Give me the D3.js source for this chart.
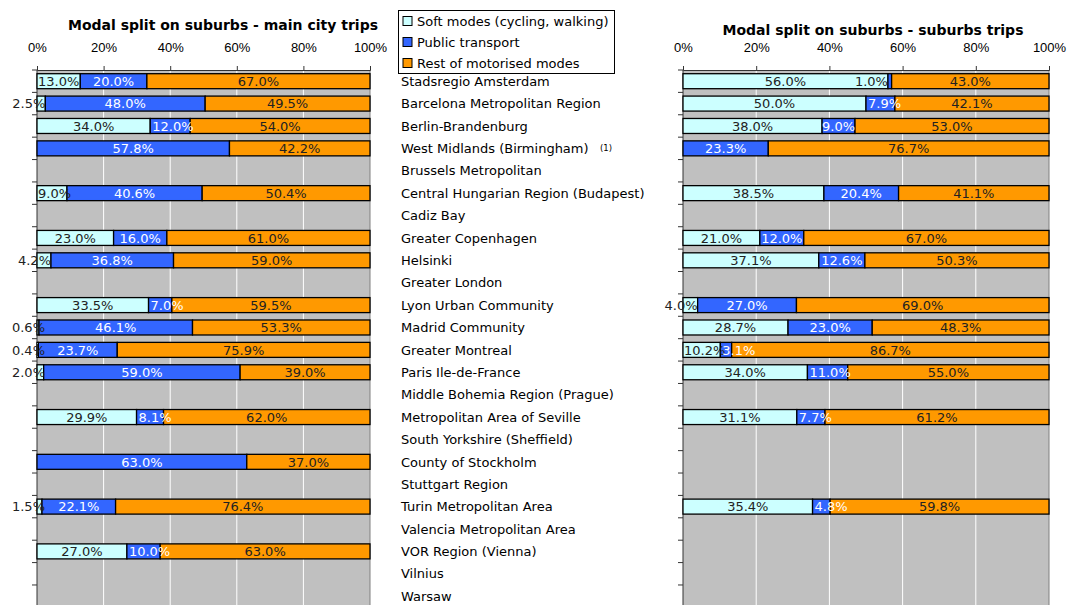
<!DOCTYPE html>
<html>
<head>
<meta charset="utf-8">
<script src="https://cdn.jsdelivr.net/npm/d3@7"></script>
<style>
    body { margin: 0; background: #fff; }
    svg { display: block; font-family: "DejaVu Sans", Verdana, sans-serif; }
</style>
</head>
<body>
<div id="chart"></div>
<script>
// regions (same order on both panels)
const categories = [
    "Stadsregio Amsterdam", "Barcelona Metropolitan Region", "Berlin-Brandenburg",
    "West Midlands (Birmingham)", "Brussels Metropolitan", "Central Hungarian Region (Budapest)",
    "Cadiz Bay", "Greater Copenhagen", "Helsinki", "Greater London", "Lyon Urban Community",
    "Madrid Community", "Greater Montreal", "Paris Ile-de-France", "Middle Bohemia Region (Prague)",
    "Metropolitan Area of Seville", "South Yorkshire (Sheffield)", "County of Stockholm",
    "Stuttgart Region", "Turin Metropolitan Area", "Valencia Metropolitan Area",
    "VOR Region (Vienna)", "Vilnius", "Warsaw"
];

const seriesNames = ["Soft modes (cycling, walking)", "Public transport", "Rest of motorised modes"];
const seriesColors = ["#CCFFFF", "#3366FF", "#FF9900"];

// main city trips (%), null = no data
const citySoft   = [13.0, 2.5, 34.0, 0, null, 9.0, null, 23.0, 4.2, null, 33.5, 0.6, 0.4, 2.0, null, 29.9, null, 0, null, 1.5, null, 27.0, null, null];
const cityPublic = [20.0, 48.0, 12.0, 57.8, null, 40.6, null, 16.0, 36.8, null, 7.0, 46.1, 23.7, 59.0, null, 8.1, null, 63.0, null, 22.1, null, 10.0, null, null];
const cityRest   = [67.0, 49.5, 54.0, 42.2, null, 50.4, null, 61.0, 59.0, null, 59.5, 53.3, 75.9, 39.0, null, 62.0, null, 37.0, null, 76.4, null, 63.0, null, null];

// suburbs trips (%)
const subSoft   = [56.0, 50.0, 38.0, 0, null, 38.5, null, 21.0, 37.1, null, 4.0, 28.7, 10.2, 34.0, null, 31.1, null, null, null, 35.4, null, null, null, null];
const subPublic = [1.0, 7.9, 9.0, 23.3, null, 20.4, null, 12.0, 12.6, null, 27.0, 23.0, 3.1, 11.0, null, 7.7, null, null, null, 4.8, null, null, null, null];
const subRest   = [43.0, 42.1, 53.0, 76.7, null, 41.1, null, 67.0, 50.3, null, 69.0, 48.3, 86.7, 55.0, null, 61.2, null, null, null, 59.8, null, null, null, null];

const xTicks = [0, 20, 40, 60, 80, 100];

const W = 1068, H = 605;
const svg = d3.select("#chart").append("svg").attr("width", W).attr("height", H);

// shared category scale (rows run past the bottom edge, like the original)
const plotTop = 70, step = 22.39;
const plotBottom = plotTop + step * categories.length;
const y = d3.scaleBand()
    .domain(categories)
    .range([plotTop, plotBottom])
    .paddingInner(0.33)
    .paddingOuter(0.165);

class StackPanel {
    constructor(svg, opts) {
        this.svg = svg;
        this.opts = opts;
        this.initVis();
    }

    initVis() {
        let vis = this;
        let o = vis.opts;

        vis.x = d3.scaleLinear().domain([0, 100]).range([o.x0, o.x1]);

        // rows -> stacked segments
        vis.rows = categories.map((c, i) => {
            let vals = [o.soft[i], o.pub[i], o.rest[i]];
            let acc = 0;
            return vals.map((v, k) => {
                let seg = {cat: c, k: k, v: v, start: acc};
                if (v != null) acc += v;
                return seg;
            });
        });

        let g = vis.svg.append("g");

        // plot background
        g.append("rect")
            .attr("x", vis.x(0)).attr("y", plotTop)
            .attr("width", vis.x(100) - vis.x(0)).attr("height", plotBottom - plotTop)
            .attr("fill", "#C0C0C0");

        // white gridlines
        g.selectAll(".grid")
            .data(xTicks.filter(t => t > 0 && t < 100))
            .enter().append("line")
            .attr("x1", d => vis.x(d)).attr("x2", d => vis.x(d))
            .attr("y1", plotTop).attr("y2", plotBottom)
            .attr("stroke", "#fff").attr("stroke-width", 1);

        // right border
        g.append("line")
            .attr("x1", vis.x(100)).attr("x2", vis.x(100))
            .attr("y1", plotTop).attr("y2", plotBottom)
            .attr("stroke", "#808080").attr("stroke-width", 1);

        // top axis
        let xAxis = d3.axisTop(vis.x).tickValues(xTicks).tickSize(4).tickFormat(d => d + "%");
        let ax = g.append("g").attr("transform", `translate(0,${plotTop})`).call(xAxis);
        ax.select(".domain").attr("stroke", "#333");
        ax.selectAll(".tick line").attr("stroke", "#333");
        ax.selectAll(".tick text")
            .attr("y", -23).attr("dy", "0.35em")
            .style("font-size", "13px").attr("fill", "#000");

        // left axis with ticks between categories
        g.append("line")
            .attr("x1", vis.x(0)).attr("x2", vis.x(0))
            .attr("y1", plotTop).attr("y2", plotBottom)
            .attr("stroke", "#333");
        g.selectAll(".ytick")
            .data(d3.range(categories.length + 1))
            .enter().append("line")
            .attr("x1", vis.x(0) - 5).attr("x2", vis.x(0))
            .attr("y1", d => plotTop + d * step).attr("y2", d => plotTop + d * step)
            .attr("stroke", "#333");

        // bars
        let segs = vis.rows.flat().filter(s => s.v != null && s.v > 0);
        g.selectAll(".seg")
            .data(segs)
            .enter().append("rect")
            .attr("x", d => vis.x(d.start))
            .attr("y", d => y(d.cat))
            .attr("width", d => vis.x(d.start + d.v) - vis.x(d.start))
            .attr("height", y.bandwidth())
            .attr("fill", d => seriesColors[d.k])
            .attr("stroke", "#000").attr("stroke-width", 1.3);

        // labels, drawn on top of every bar
        let labels = g.selectAll(".lbl")
            .data(segs)
            .enter().append("text")
            .attr("y", d => y(d.cat) + y.bandwidth() / 2)
            .attr("dy", "0.36em")
            .style("font-size", "13px")
            .text(d => d.v.toFixed(1) + "%");

        labels.each(function(d) {
            let t = d3.select(this);
            let tw = this.getComputedTextLength();
            let xs = vis.x(d.start), xe = vis.x(d.start + d.v);
            let fits = tw <= xe - xs + 1;
            let anchor = "middle", px = (xs + xe) / 2, fill = d.k === 1 ? "#fff" : "#222";
            if (!fits && d.k === 0) {
                if (d.v < 5) { anchor = "end"; px = Math.max(xe, vis.x(0) + 8); }
                else { anchor = "start"; px = xs + 1; }
            }
            if (!fits && d.k === 1) {
                if (d.v < 2) { anchor = "end"; px = xs; fill = "#222"; }
                else { anchor = "start"; px = xs + 2; }
            }
            t.attr("x", px).attr("text-anchor", anchor).attr("fill", fill);
        });

        // title
        vis.svg.append("text")
            .attr("x", o.titleX).attr("y", o.titleY)
            .attr("text-anchor", "middle").attr("dy", "0.35em")
            .style("font-size", "14px").style("font-weight", "bold")
            .text(o.title);
    }
}

new StackPanel(svg, {
    x0: 37, x1: 370, soft: citySoft, pub: cityPublic, rest: cityRest,
    title: "Modal split on suburbs - main city trips", titleX: 223, titleY: 25
});
new StackPanel(svg, {
    x0: 683, x1: 1049, soft: subSoft, pub: subPublic, rest: subRest,
    title: "Modal split on suburbs - suburbs trips", titleX: 873, titleY: 30
});

// category names in the middle column
svg.append("g").selectAll("text")
    .data(categories)
    .enter().append("text")
    .attr("x", 401)
    .attr("y", d => y(d) + y.bandwidth() / 2)
    .attr("dy", "0.36em")
    .style("font-size", "13px")
    .attr("fill", "#000")
    .text(d => d);

// footnote marker on West Midlands
svg.append("text")
    .attr("x", 600).attr("y", y("West Midlands (Birmingham)") + y.bandwidth() / 2)
    .attr("dy", "0.35em")
    .style("font-size", "8.5px")
    .text("(1)");

// legend
let legend = svg.append("g");
legend.append("rect")
    .attr("x", 398.5).attr("y", 10.5).attr("width", 216).attr("height", 63)
    .attr("fill", "#fff").attr("stroke", "#000");
let li = legend.selectAll(".li").data(seriesNames).enter().append("g")
    .attr("transform", (d, i) => `translate(403,${21 + i * 21})`);
li.append("rect")
    .attr("x", 0).attr("y", -4.5).attr("width", 9).attr("height", 9)
    .attr("fill", (d, i) => seriesColors[i]).attr("stroke", "#000");
li.append("text")
    .attr("x", 14).attr("dy", "0.36em")
    .style("font-size", "13px")
    .text(d => d);
</script>
</body>
</html>
